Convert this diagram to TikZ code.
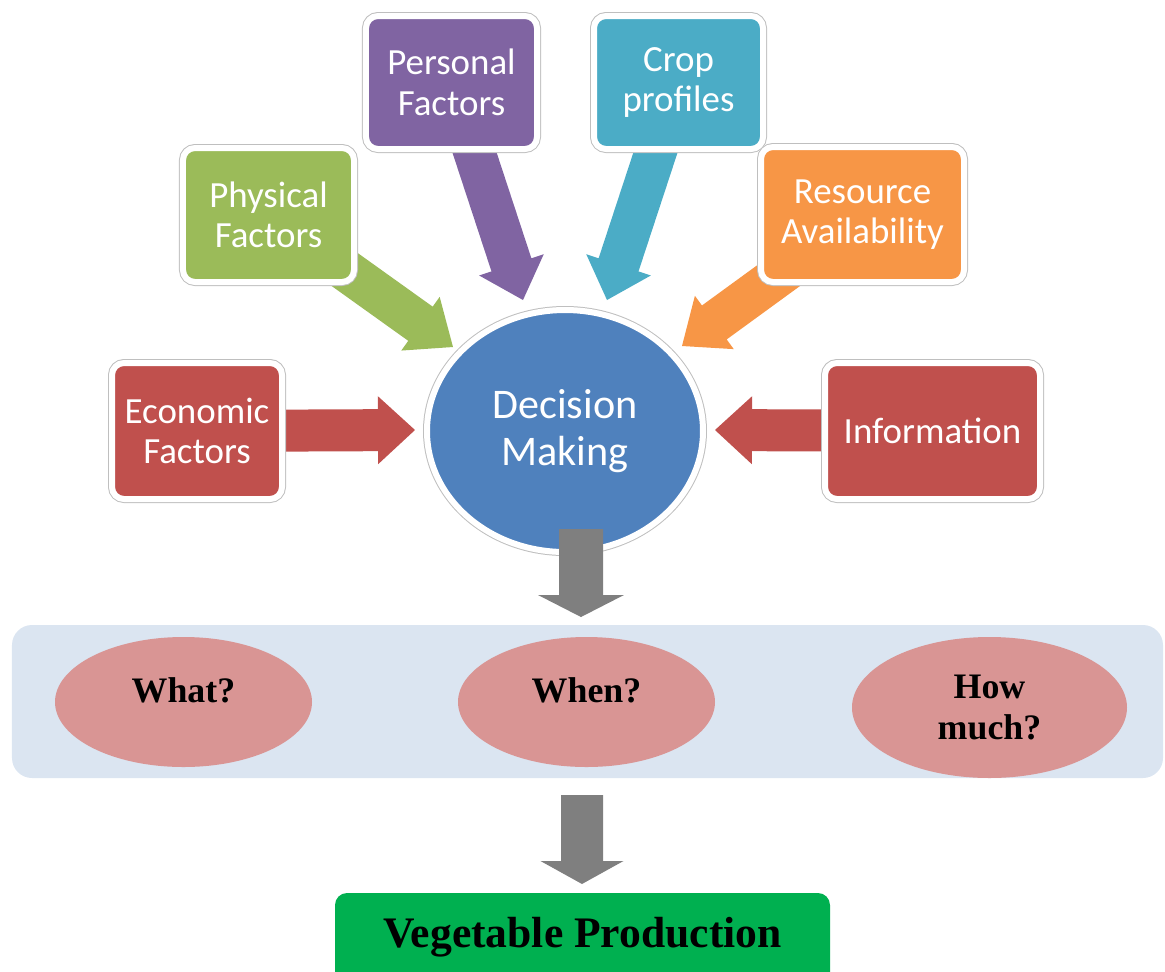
\documentclass[tikz,border=0pt]{standalone}
\usepackage{fontspec}
\setmainfont{Liberation Serif}
\newfontfamily\boxfont{Carlito}
\usepackage{tikz}
\usetikzlibrary{calc,shapes.geometric,backgrounds}
\definecolor{factorred}{HTML}{C0504D}
\definecolor{factorgreen}{HTML}{9BBB59}
\definecolor{factorpurple}{HTML}{8064A2}
\definecolor{factorteal}{HTML}{4BACC6}
\definecolor{factororange}{HTML}{F79646}
\definecolor{decisionblue}{HTML}{4F81BD}
\definecolor{bandblue}{HTML}{DBE5F1}
\definecolor{questionpink}{HTML}{D99594}
\definecolor{flowgray}{HTML}{7F7F7F}
\definecolor{veggreen}{HTML}{00B050}
% fat block arrow: colour, from, tip, shaft half width, head half width, head length
\newcommand{\blockarrow}[6]{%
  \path ($(#3)!#6!(#2)$) coordinate (hb);
  \fill[#1] ($(#2)!#4!90:(#3)$) -- ($(hb)!#4!90:(#3)$) -- ($(hb)!#5!90:(#3)$) -- (#3)
    -- ($(hb)!#5!-90:(#3)$) -- ($(hb)!#4!-90:(#3)$) -- ($(#2)!#4!-90:(#3)$) -- cycle;
}

\begin{document}
\begin{tikzpicture}[
  factor/.style={draw=white, line width=0.6mm, rounded corners=1.2mm, preaction={draw=black!25, line width=0.8mm}, align=center, text=white, inner sep=0pt, font=\boxfont\fontsize{10.5}{11.5}\selectfont},
  question/.style={ellipse, fill=questionpink, inner sep=0pt, align=center, font=\bfseries\fontsize{10.2}{11.8}\selectfont}
]
  \useasboundingbox (0,0) rectangle (11.65,-9.72);

  % factor boxes round the decision
  \node[factor, fill=factorred, minimum width=1.70cm, minimum height=1.36cm] (econ) at (1.97,-4.31) {Economic\\Factors};
  \node[factor, fill=factorgreen, minimum width=1.71cm, minimum height=1.34cm] (phys) at (2.685,-2.15) {Physical\\Factors};
  \node[factor, fill=factorpurple, minimum width=1.71cm, minimum height=1.33cm] (pers) at (4.515,-0.825) {Personal\\Factors};
  \node[factor, fill=factorteal, minimum width=1.69cm, minimum height=1.33cm] (crop) at (6.785,-0.825) {Crop\\profiles};
  \node[factor, fill=factororange, minimum width=2.03cm, minimum height=1.35cm] (res) at (8.625,-2.145) {Resource\\Availability};
  \node[factor, fill=factorred, minimum width=2.15cm, minimum height=1.36cm] (info) at (9.325,-4.31) {Information};

  \node[ellipse, fill=decisionblue, draw=white, line width=0.6mm, preaction={draw=black!25, line width=0.8mm}, minimum width=2.76cm, minimum height=2.42cm, inner sep=0pt, align=center, text=white, font=\boxfont\fontsize{12}{13.4}\selectfont] (dm) at (5.65,-4.31) {Decision\\Making};

  % arrow tips
  \coordinate (econtip) at (4.15,-4.30);
  \coordinate (phystip) at (4.53,-3.47);
  \coordinate (perstip) at (5.23,-3.00);
  \coordinate (croptip) at (6.07,-3.00);
  \coordinate (restip) at (6.82,-3.46);
  \coordinate (infotip) at (7.15,-4.30);

  \begin{scope}[on background layer]
    \blockarrow{factorred}{econ.center}{econtip}{0.21cm}{0.34cm}{0.37cm}
    \blockarrow{factorgreen}{phys.center}{phystip}{0.21cm}{0.33cm}{0.40cm}
    \blockarrow{factorpurple}{pers.center}{perstip}{0.21cm}{0.34cm}{0.37cm}
    \blockarrow{factorteal}{crop.center}{croptip}{0.21cm}{0.34cm}{0.37cm}
    \blockarrow{factororange}{res.center}{restip}{0.21cm}{0.33cm}{0.40cm}
    \blockarrow{factorred}{info.center}{infotip}{0.21cm}{0.34cm}{0.37cm}
  \end{scope}

  % questions
  \node[fill=bandblue, rounded corners=2mm, minimum width=11.51cm, minimum height=1.53cm] (band) at (5.875,-7.015) {};
  \node[question, minimum width=2.57cm, minimum height=1.30cm, text height=0.3cm, text depth=0.3cm] (what) at (1.835,-7.02) {What?};
  \node[question, minimum width=2.57cm, minimum height=1.30cm, text height=0.3cm, text depth=0.3cm] (when) at (5.865,-7.02) {When?};
  \node[question, minimum width=2.75cm, minimum height=1.41cm] (howmuch) at (9.895,-7.075) {How\\much?};

  \node[fill=veggreen, rounded corners=1.2mm, minimum width=4.95cm, minimum height=1.0cm, text height=0.3cm, text depth=0.22cm, font=\bfseries\fontsize{12.4}{14}\selectfont] (veg) at (5.825,-9.43) {Vegetable Production};

  \coordinate (dmout) at (5.81,-5.29);
  \coordinate (bandin) at (5.81,-6.17);
  \coordinate (bandout) at (5.82,-7.95);
  \coordinate (vegin) at (5.82,-8.84);
  \blockarrow{flowgray}{dmout}{bandin}{0.22cm}{0.43cm}{0.22cm}
  \blockarrow{flowgray}{bandout}{vegin}{0.21cm}{0.415cm}{0.23cm}
\end{tikzpicture}
\end{document}
